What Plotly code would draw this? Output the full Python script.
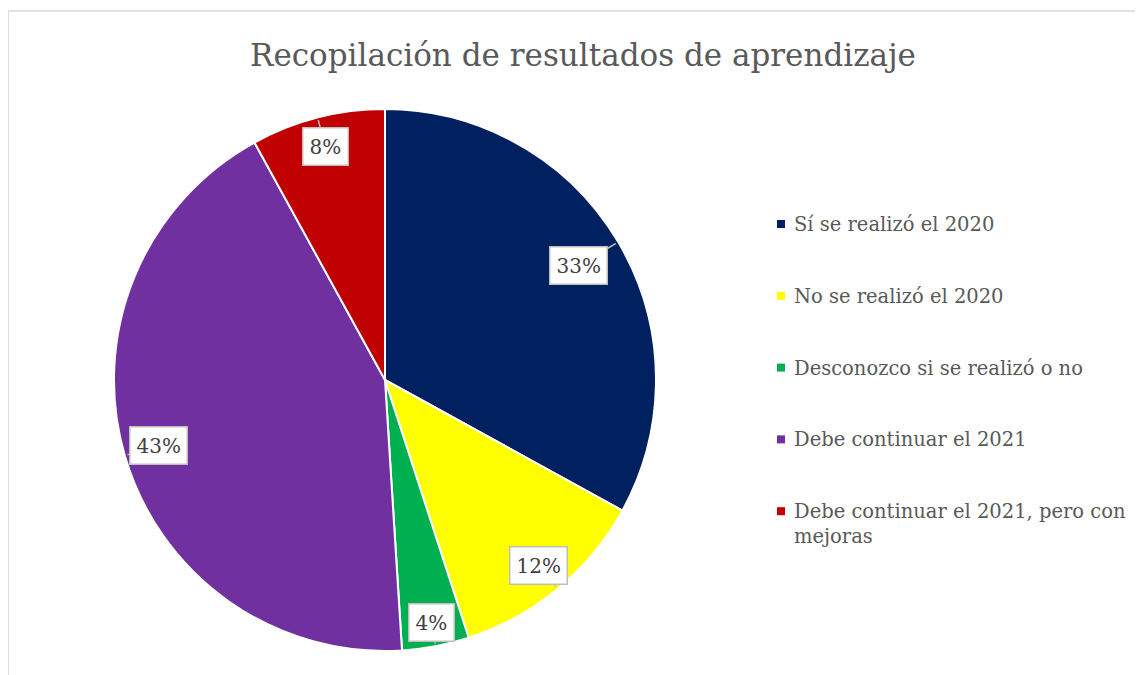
import math
import plotly.graph_objects as go

categories = ["Sí se realizó el 2020", "No se realizó el 2020", "Desconozco si se realizó o no",
              "Debe continuar el 2021", "Debe continuar el 2021, pero con mejoras"]
legend_labels = ["Sí se realizó el 2020", "No se realizó el 2020", "Desconozco si se realizó o no",
                 "Debe continuar el 2021", "Debe continuar el 2021, pero con<br>mejoras"]
values = [33, 12, 4, 43, 8]
colors = ["#002060", "#FFFF00", "#00B050", "#7030A0", "#C00000"]
title_text = "Recopilación de resultados de aprendizaje"

W, H = 1143, 675
OFF = 8  # page body margin offset
CX, CY, R = 385 - OFF, 380 - OFF, 271
label_frac = [0.83, 0.89, 0.91, 0.87, 0.89]
FONT = "DejaVu Serif"

fig = go.Figure()
fig.add_trace(go.Pie(
    labels=categories, values=values, sort=False, direction="clockwise", rotation=0,
    marker=dict(colors=colors, line=dict(color="white", width=2)),
    textinfo="none", hoverinfo="label+percent", showlegend=False,
    domain=dict(x=[(CX - R) / W, (CX + R) / W], y=[1 - (CY + R) / H, 1 - (CY - R) / H]),
))

total = sum(values)
annotations = []
cum = 0
for v, f in zip(values, label_frac):
    mid = (cum + v / 2) / total * 2 * math.pi
    cum += v
    tipx = CX + R * 0.99 * math.sin(mid)
    tipy = CY - R * 0.99 * math.cos(mid)
    bx = CX + R * f * math.sin(mid)
    by = CY - R * f * math.cos(mid)
    annotations.append(dict(
        x=tipx / W, y=1 - tipy / H, xref="paper", yref="paper",
        ax=bx - tipx, ay=by - tipy, axref="pixel", ayref="pixel",
        text=f"{round(v / total * 100)}%", showarrow=True, arrowhead=0, arrowwidth=1.5,
        arrowcolor="#bfbfbf", bgcolor="white", bordercolor="#bfbfbf", borderwidth=1.5,
        borderpad=6, font=dict(family=FONT, size=20, color="#404040"),
    ))

# legend
LX, LY0, LDY = 777 - OFF, 224 - OFF, 71.8
for i, (lab, c) in enumerate(zip(legend_labels, colors)):
    y = LY0 + i * LDY
    annotations.append(dict(
        x=(LX + 15) / W, y=1 - (y - 13) / H, xref="paper", yref="paper",
        xanchor="left", yanchor="top", showarrow=False, align="left",
        text=lab, font=dict(family=FONT, size=19.5, color="#595959"),
    ))

shapes = [dict(type="rect", xref="paper", yref="paper", x0=(7 - OFF) / W + 0.001, x1=1.05,
               y0=-0.05, y1=1 - (11 - OFF) / H,
               line=dict(color="#d9d9d9", width=1.5))]
for i, c in enumerate(colors):
    y = LY0 + i * LDY
    shapes.append(dict(type="rect", xref="paper", yref="paper",
                       x0=LX / W, x1=(LX + 8) / W, y0=1 - (y + 4) / H, y1=1 - (y - 4) / H,
                       fillcolor=c, line=dict(width=0)))

fig.update_layout(
    width=W, height=H, margin=dict(l=0, r=0, t=0, b=0),
    paper_bgcolor="white", plot_bgcolor="white",
    title=dict(text=title_text, x=(583 - OFF) / W, xanchor="center", y=1 - (55 - OFF) / H,
               yanchor="middle", font=dict(family=FONT, size=31, color="#595959")),
    annotations=annotations, shapes=shapes,
)
fig.write_html("out.html")
